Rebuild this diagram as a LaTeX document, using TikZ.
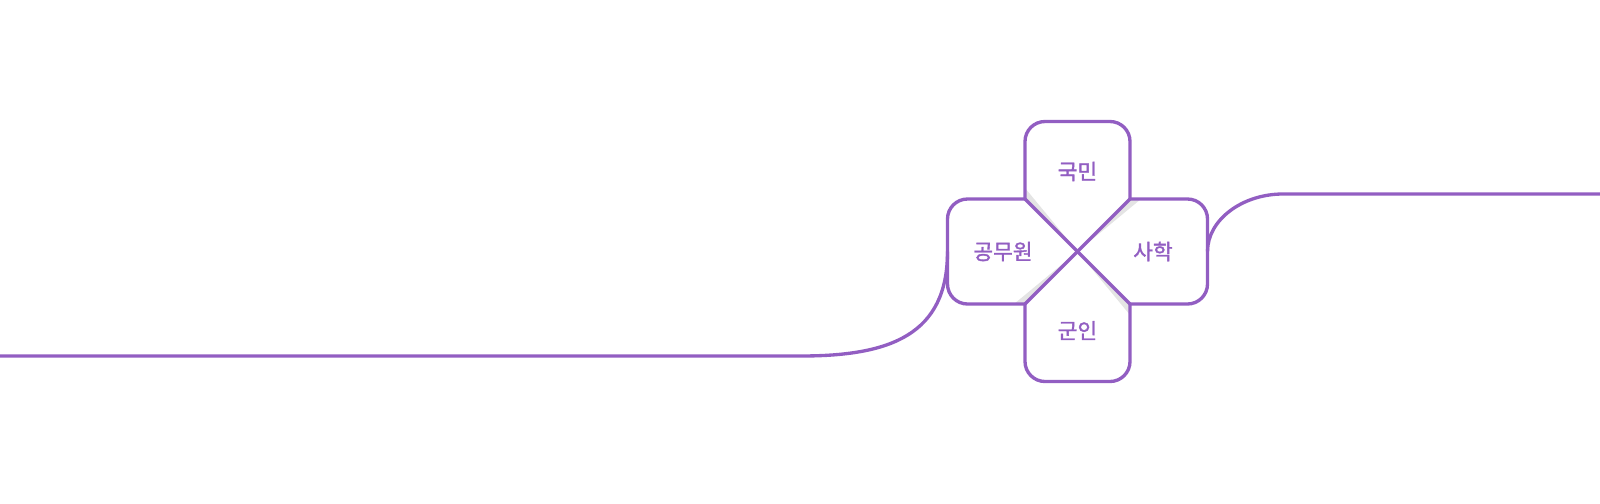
\documentclass[tikz,border=0pt]{standalone}
\usepackage{fontspec}
\newfontfamily\kofont[FakeBold=1.6]{Noto Sans CJK KR}
\definecolor{lineviolet}{RGB}{146,94,194}
\definecolor{foldgray}{RGB}{228,228,228}

\begin{document}
\begin{tikzpicture}[line width=1.9pt,draw=lineviolet]
\useasboundingbox (0,0) rectangle (32,10.06);
\tikzset{armline/.style={draw=lineviolet,rounded corners=0.4cm},
         cross/.style={draw=lineviolet,line cap=round},
         armlabel/.style={text=lineviolet,font=\kofont\fontsize{12.2}{14}\selectfont}}
\coordinate (nw) at (20.5,6.08);
\coordinate (ne) at (22.6,6.08);
\coordinate (sw) at (20.5,3.98);
\coordinate (se) at (22.6,3.98);
\coordinate (ctr) at (21.55,5.03);
\coordinate (wmid) at (18.95,5.03);
\coordinate (emid) at (24.15,5.03);
\coordinate (lstart) at (0,2.94);
\coordinate (lbend) at (16.02,2.94);
\coordinate (rbend) at (25.66,6.18);
\coordinate (rend) at (32,6.18);
\fill[foldgray] (nw) -- (20.5,6.30) -- (ctr) -- cycle;
\fill[foldgray] (ne) -- (22.82,6.08) -- (ctr) -- cycle;
\fill[foldgray] (sw) -- (20.28,3.98) -- (ctr) -- cycle;
\fill[foldgray] (se) -- (22.6,3.76) -- (ctr) -- cycle;
\draw[cross] (nw) -- (se);
\draw[cross] (ne) -- (sw);
\draw[armline] (nw) -- (20.5,7.63) -- (22.6,7.63) -- (ne);
\draw[armline] (ne) -- (24.15,6.08) -- (24.15,3.98) -- (se);
\draw[armline] (se) -- (22.6,2.43) -- (20.5,2.43) -- (sw);
\draw[armline] (sw) -- (18.95,3.98) -- (18.95,6.08) -- (nw);
\draw (lstart) -- (lbend) .. controls (17.8,2.94) and (18.95,3.36) .. (wmid);
\draw (emid) .. controls (24.15,5.66) and (24.84,6.18) .. (rbend) -- (rend);
\path (21.55,6.63) node[armlabel] (kukmin) {국민};
\path (20.06,5.03) node[armlabel] (gongmuwon) {공무원};
\path (23.06,5.03) node[armlabel] (sahak) {사학};
\path (21.55,3.45) node[armlabel] (gunin) {군인};
\end{tikzpicture}
\end{document}
